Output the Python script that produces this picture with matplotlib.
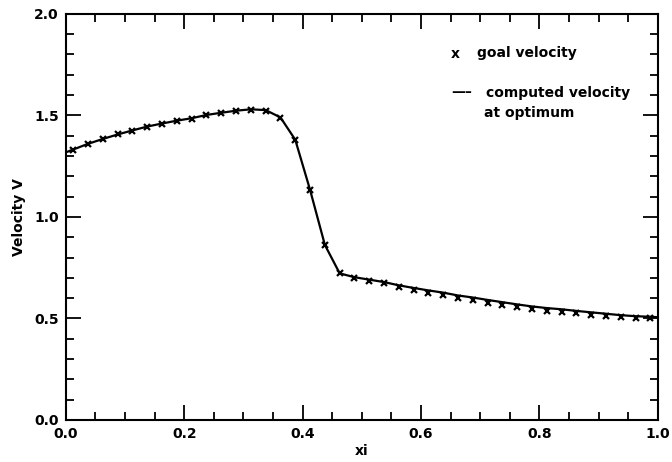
import numpy as np
import matplotlib
matplotlib.use("Agg")
import matplotlib.pyplot as plt
from matplotlib.ticker import MultipleLocator

# goal velocity, sampled at cell centres
goal_xi = np.arange(0.0125, 1.0, 0.025)
goal_v = [
    1.330, 1.360, 1.383, 1.407, 1.425, 1.445, 1.460, 1.473, 1.484, 1.501,
    1.511, 1.521, 1.527, 1.522, 1.488, 1.379, 1.133, 0.862, 0.722, 0.700,
    0.685, 0.673, 0.654, 0.640, 0.627, 0.616, 0.600, 0.591, 0.578, 0.567,
    0.555, 0.545, 0.538, 0.533, 0.526, 0.519, 0.512, 0.505, 0.502, 0.501,
]

# computed velocity at optimum (same centres plus both ends)
comp_xi = np.concatenate(([0.0], goal_xi, [1.0]))
comp_v = [
    1.318,
    1.332, 1.360, 1.384, 1.406, 1.426, 1.445, 1.460, 1.474, 1.486, 1.502,
    1.513, 1.523, 1.530, 1.526, 1.490, 1.380, 1.133, 0.862, 0.722, 0.703,
    0.691, 0.679, 0.663, 0.650, 0.638, 0.627, 0.613, 0.603, 0.591, 0.580,
    0.569, 0.559, 0.551, 0.545, 0.537, 0.530, 0.523, 0.516, 0.511, 0.508,
    0.506,
]

plt.rcParams["font.family"] = ["DejaVu Sans"]

fig = plt.figure(figsize=(6.72, 4.62), dpi=100)
ax = fig.add_axes([0.098, 0.091, 0.881, 0.879])

ax.plot(comp_xi, comp_v, color="black", lw=1.6, solid_joinstyle="miter")
ax.plot(goal_xi, goal_v, ls="none", marker="x", ms=4.5, mew=1.6,
        color="black")

ax.set_xlim(0, 1)
ax.set_ylim(0, 2)
ax.xaxis.set_major_locator(MultipleLocator(0.2))
ax.xaxis.set_minor_locator(MultipleLocator(0.05))
ax.yaxis.set_major_locator(MultipleLocator(0.5))
ax.yaxis.set_minor_locator(MultipleLocator(0.1))
ax.xaxis.set_major_formatter("{x:.1f}")
ax.yaxis.set_major_formatter("{x:.1f}")

ax.tick_params(which="both", direction="in", top=True, right=True,
               width=1.3, labelsize=10)
ax.tick_params(which="major", length=11, pad=5)
ax.tick_params(which="minor", length=5.5)
for s in ax.spines.values():
    s.set_linewidth(1.5)
for lab in ax.get_xticklabels() + ax.get_yticklabels():
    lab.set_fontweight("bold")

ax.set_xlabel("xi", fontsize=10, fontweight="bold", labelpad=2)
ax.set_ylabel("Velocity V", fontsize=10, fontweight="bold", labelpad=6)

# hand-drawn style legend
kw = dict(transform=ax.transAxes, fontsize=10, fontweight="bold",
          va="center", ha="left")
ax.text(0.651, 0.902, "x", **kw)
ax.text(0.694, 0.904, "goal velocity", **kw)
ax.text(0.651, 0.808, "\u2014\u2013", **kw)
ax.text(0.709, 0.805, "computed velocity", **kw)
ax.text(0.706, 0.755, "at optimum", **kw)

fig.savefig("out.png", dpi=100)
